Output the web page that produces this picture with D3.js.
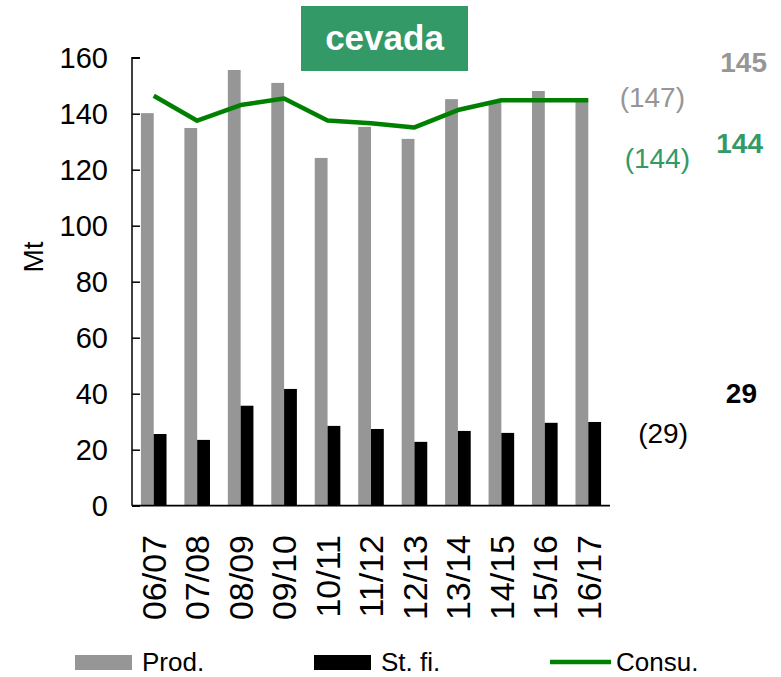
<!DOCTYPE html>
<html>
<head>
<meta charset="utf-8">
<script src="https://cdn.jsdelivr.net/npm/d3@7"></script>
<style>
  body { margin: 0; background: #fff; }
  svg text { font-family: Arial, "Liberation Sans", sans-serif; }
</style>
</head>
<body>
<svg id="chart" width="781" height="677"></svg>
<script>
// data
const seasons = ["06/07","07/08","08/09","09/10","10/11","11/12","12/13","13/14","14/15","15/16","16/17"]
const prod = [140.2, 134.9, 155.6, 151, 124.2, 135.3, 131, 145.2, 144, 148.1, 145]
const stocks = [25.6, 23.5, 35.7, 41.7, 28.5, 27.4, 22.8, 26.7, 26, 29.6, 29.9]
const consu = [146.4, 137.5, 143.1, 145.4, 137.6, 136.6, 135.1, 141.3, 144.8, 144.8, 144.8]
const yTicks = [0, 20, 40, 60, 80, 100, 120, 140, 160]
const sideLabels = [
  {text: "145", bold: true, color: "#969696", x: 767, y: 72},
  {text: "(147)", bold: false, color: "#969696", x: 685, y: 107},
  {text: "144", bold: true, color: "#339966", x: 763, y: 153},
  {text: "(144)", bold: false, color: "#339966", x: 690, y: 168},
  {text: "29", bold: true, color: "#000", x: 757, y: 403},
  {text: "(29)", bold: false, color: "#000", x: 688, y: 443}
]

const svg = d3.select("#chart")
const plotLeft = 132, plotRight = 610, plotTop = 57.7, plotBottom = 505.7
const barW = 12.8

const x = d3.scaleBand().domain(seasons).range([plotLeft, plotRight]).padding(0)
const y = d3.scaleLinear().domain([0, 160]).range([plotBottom, plotTop])
const cx = d => x(d) + x.bandwidth()/2

// bars
svg.append("g").selectAll("rect").data(seasons).join("rect")
  .attr("x", d => cx(d) - barW)
  .attr("y", (d, i) => y(prod[i]))
  .attr("width", barW)
  .attr("height", (d, i) => plotBottom - y(prod[i]))
  .attr("fill", "#969696")

svg.append("g").selectAll("rect").data(seasons).join("rect")
  .attr("x", d => cx(d))
  .attr("y", (d, i) => y(stocks[i]))
  .attr("width", barW)
  .attr("height", (d, i) => plotBottom - y(stocks[i]))
  .attr("fill", "#000")

// consumption line
const line = d3.line().x((d, i) => cx(seasons[i])).y(d => y(d))
svg.append("path").datum(consu)
  .attr("d", line)
  .attr("fill", "none")
  .attr("stroke", "#008000")
  .attr("stroke-width", 4.5)
  .attr("stroke-linejoin", "round")

// y axis
const yAxis = svg.append("g").attr("transform", `translate(${plotLeft},0)`)
  .call(d3.axisRight(y).tickValues(yTicks).tickSize(8).tickFormat(""))
yAxis.select(".domain").attr("d", `M8,${plotTop}H0V${plotBottom}`).attr("stroke-width", 1.5)
yAxis.selectAll(".tick line").attr("stroke-width", 1.5)
svg.append("g").selectAll("text").data(yTicks).join("text")
  .attr("x", 108)
  .attr("y", d => y(d))
  .attr("dy", "0.36em")
  .attr("text-anchor", "end")
  .attr("font-size", 29)
  .text(d => d)

// x axis
svg.append("line")
  .attr("x1", plotLeft).attr("x2", plotRight)
  .attr("y1", plotBottom).attr("y2", plotBottom)
  .attr("stroke", "#000").attr("stroke-width", 1.8)
svg.append("g").selectAll("text").data(seasons).join("text")
  .attr("transform", d => `translate(${cx(d)},535) rotate(-90)`)
  .attr("dy", "0.36em")
  .attr("text-anchor", "end")
  .attr("font-size", 34)
  .text(d => d)

// y label
svg.append("text")
  .attr("transform", "translate(33,257) rotate(-90)")
  .attr("dy", "0.36em")
  .attr("text-anchor", "middle")
  .attr("font-size", 28)
  .text("Mt")

// title
svg.append("rect").attr("x", 301).attr("y", 6).attr("width", 167).attr("height", 65).attr("fill", "#339966")
svg.append("text").attr("x", 384.5).attr("y", 50)
  .attr("text-anchor", "middle").attr("font-size", 35).attr("font-weight", "bold")
  .attr("fill", "#fff").text("cevada")

// side labels
svg.append("g").selectAll("text").data(sideLabels).join("text")
  .attr("x", d => d.x).attr("y", d => d.y)
  .attr("text-anchor", "end")
  .attr("font-size", 28)
  .attr("font-weight", d => d.bold ? "bold" : "normal")
  .attr("fill", d => d.color)
  .text(d => d.text)

// legend
const lg = svg.append("g")
lg.append("rect").attr("x", 75).attr("y", 655).attr("width", 57).attr("height", 15).attr("fill", "#969696")
lg.append("text").attr("x", 142).attr("y", 671).attr("font-size", 26).text("Prod.")
lg.append("rect").attr("x", 314).attr("y", 655).attr("width", 57).attr("height", 15).attr("fill", "#000")
lg.append("text").attr("x", 381).attr("y", 671).attr("font-size", 26).text("St. fi.")
lg.append("line").attr("x1", 550).attr("x2", 611).attr("y1", 662).attr("y2", 662)
  .attr("stroke", "#008000").attr("stroke-width", 4.5)
lg.append("text").attr("x", 616).attr("y", 671).attr("font-size", 26).text("Consu.")
</script>
</body>
</html>
